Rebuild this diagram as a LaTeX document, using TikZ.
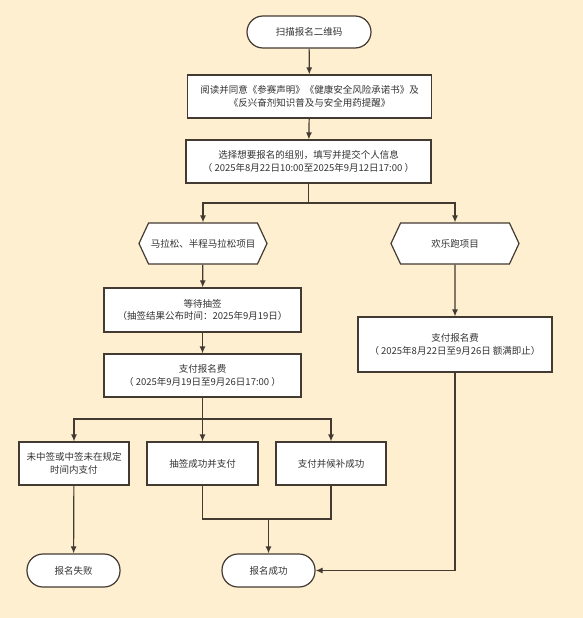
\documentclass[tikz,border=0pt]{standalone}
\usepackage{fontspec}
\newfontfamily\cjk{Noto Sans CJK SC}
\usetikzlibrary{arrows.meta,shapes.symbols}

\definecolor{paper}{HTML}{FFEFD1}
\definecolor{ink}{HTML}{433A32}
\definecolor{txt}{HTML}{333333}

\tikzset{
    box/.style = {draw = ink, fill = white, inner sep = 0pt, align = center,
        text = txt, font = \cjk\fontsize{9.5}{12.5}\selectfont},
    term/.style = {box, rounded corners = 16pt},
    hexa/.style = {box, signal, signal to = west and east,
        signal pointer angle = 130},
}

\begin{document}
\begin{tikzpicture}[%
        x = 1pt,
        y = -1pt,
        line width = 1.2pt,
        > = {Latex[length = 7pt, width = 6pt]},
    ]

        % Background of the page.
        \fill[paper] (0.0, 0.0) rectangle (583.0, 618.0);

        % Steps of the main line.
        \node[term, minimum width = 124, minimum height = 32] (scan) at (309.0, 32.0) {扫描报名二维码};
        \node[box, minimum width = 244, minimum height = 43] (read) at (309.5, 96.5)
            {阅读并同意《参赛声明》《健康安全风险承诺书》及\\《反兴奋剂知识普及与安全用药提醒》};
        \node[box, minimum width = 245, minimum height = 43] (pick) at (308.5, 161.5)
            {选择想要报名的组别，填写并提交个人信息\\（ 2025年8月22日10:00至2025年9月12日17:00 ）};

        % The two kinds of race.
        \node[hexa, minimum width = 128, minimum height = 41] (marathon) at (203.0, 243.5) {马拉松、半程马拉松项目};
        \node[hexa, minimum width = 128, minimum height = 41] (funrun) at (455.0, 243.5) {欢乐跑项目};

        % Steps of the marathon line.
        \node[box, minimum width = 197, minimum height = 44] (draw) at (202.5, 310.0)
            {等待抽签\\（抽签结果公布时间：2025年9月19日）};
        \node[box, minimum width = 197, minimum height = 43] (payA) at (202.5, 375.5)
            {支付报名费\\（ 2025年9月19日至9月26日17:00 ）};
        \node[box, minimum width = 110, minimum height = 43] (miss) at (74.0, 463.5)
            {未中签或中签未在规定\\时间内支付};
        \node[box, minimum width = 111, minimum height = 43] (win) at (202.5, 463.5) {抽签成功并支付};
        \node[box, minimum width = 110, minimum height = 43] (wait) at (331.0, 463.5) {支付并候补成功};

        % Step of the fun run line.
        \node[box, minimum width = 194, minimum height = 55] (payB) at (455.0, 344.5)
            {支付报名费\\（ 2025年8月22日至9月26日 额满即止）};

        % Final states.
        \node[term, minimum width = 93, minimum height = 33] (fail) at (73.5, 570.5) {报名失败};
        \node[term, minimum width = 93, minimum height = 33] (done) at (268.5, 570.5) {报名成功};

        % Points where the lines split or join.
        \coordinate (split1) at (308.5, 203.0);
        \coordinate (split2) at (202.5, 419.0);
        \coordinate (join) at (268.5, 519.0);

        % Draw the connectors.
        \begin{scope}[draw = ink]
            \draw[->] (scan) to (read);
            \draw[->] (read) to (pick);
            \draw (pick.south) to (split1);
            \draw[->] (split1) -| (marathon.north);
            \draw[->] (split1) -| (funrun.north);
            \draw[->] (marathon) to (draw);
            \draw[->] (draw) to (payA);
            \draw (payA.south) to (split2);
            \draw[->] (split2) -| (miss.north);
            \draw[->] (split2) to (win.north);
            \draw[->] (split2) -| (wait.north);
            \draw[->] (miss) to (fail);
            \draw (win.south) |- (join) -| (wait.south);
            \draw[->] (join) to (done.north);
            \draw[->] (funrun) to (payB);
            \draw[->] (payB.south) |- (done.east);
        \end{scope}
    \end{tikzpicture}
\end{document}
